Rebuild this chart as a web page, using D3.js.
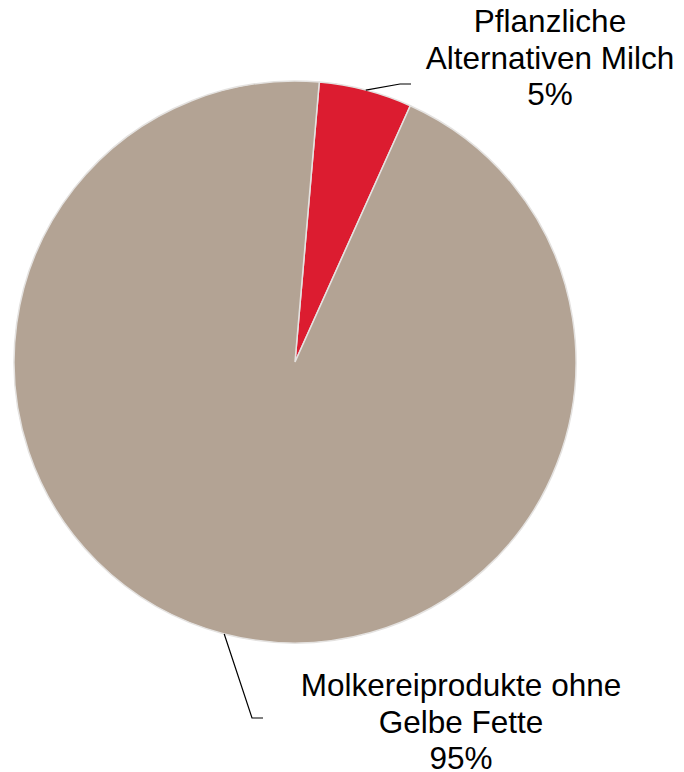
<!DOCTYPE html>
<html>
<head>
<meta charset="utf-8">
<script src="https://cdn.jsdelivr.net/npm/d3@7"></script>
<style>
body { margin: 0; background: #fff; }
svg text { font-family: "Liberation Sans", Arial, sans-serif; fill: #000; }
</style>
</head>
<body>
<svg width="684" height="772"></svg>
<script>
const categories = ["Pflanzliche Alternativen Milch", "Molkereiprodukte ohne Gelbe Fette"]
const labelLines = [["Pflanzliche", "Alternativen Milch"], ["Molkereiprodukte ohne", "Gelbe Fette"]]
const values = [5.35, 94.65]
const colors = ["#dc1c30", "#b3a394"]

const cx = 295, cy = 362, radius = 281
const svg = d3.select("svg")
const g = svg.append("g").attr("transform", `translate(${cx},${cy})`)

const start = 4.96 * Math.PI / 180
const pie = d3.pie().sort(null).value(d => d).startAngle(start).endAngle(start + 2 * Math.PI)
const arcs = pie(values)
const arc = d3.arc().innerRadius(0).outerRadius(radius)

g.selectAll("path.slice")
    .data(arcs)
    .enter()
    .append("path")
    .attr("class", "slice")
    .attr("d", arc)
    .attr("fill", (d, i) => colors[i])
    .attr("stroke", "#e4e2e0")
    .attr("stroke-width", 1.5)

// leader lines: from arc edge at mid angle, elbow, short horizontal
const elbows = [[105, -278, 116], [-43, 356, -32]]
const fmt = d3.format(".0%")
const total = d3.sum(values)

arcs.forEach((d, i) => {
    const a = (d.startAngle + d.endAngle) / 2
    const p0 = [radius * Math.sin(a), -radius * Math.cos(a)]
    const e = elbows[i]
    g.append("polyline")
        .attr("points", [p0, [e[0], e[1]], [e[2], e[1]]].map(p => p.join(",")).join(" "))
        .attr("fill", "none")
        .attr("stroke", "#000")
        .attr("stroke-width", 1.2)
})

const labelPos = [[550, 32], [461, 696]]
labelLines.forEach((lines, i) => {
    const t = svg.append("text")
        .attr("x", labelPos[i][0])
        .attr("y", labelPos[i][1])
        .attr("text-anchor", "middle")
        .attr("font-size", 31.5)
    lines.concat([fmt(values[i] / total)]).forEach((s, j) => {
        t.append("tspan").attr("x", labelPos[i][0]).attr("dy", j === 0 ? 0 : 36.5).text(s)
    })
})
</script>
</body>
</html>
